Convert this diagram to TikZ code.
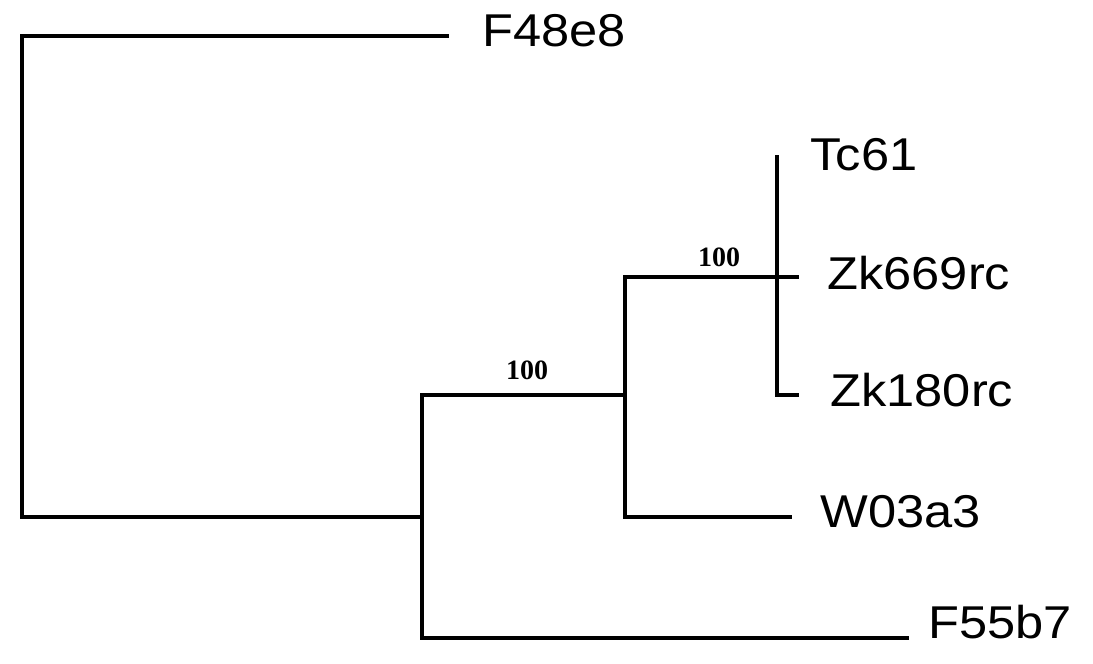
\documentclass[tikz,border=0pt]{standalone}
\usepackage{fontspec}
\setmainfont{Liberation Sans}
\newfontfamily\bootfont{Liberation Serif}
\usepackage{tikz}
\usetikzlibrary{positioning,calc}

\begin{document}
\begin{tikzpicture}[x=0.5pt, y=-0.5pt,
    branch/.style={line width=2.4pt, line cap=rect},
    leaf/.style={anchor=west, inner sep=0pt, xscale=1.1, font=\fontsize{23}{23}\selectfont},
    boot/.style={inner sep=0pt, font=\bootfont\bfseries\fontsize{14}{14}\selectfont}]
  \useasboundingbox (0,0) rectangle (1093,664);
  % inner nodes of the tree
  \coordinate (nR) at (22,517);
  \coordinate (nA) at (422,517);
  \coordinate (nB) at (625,395);
  \coordinate (nC) at (777,277);
  % branch tips
  \coordinate (tF48) at (447,36);
  \coordinate (tF55) at (907,638);
  \coordinate (tW03) at (790,517);
  \coordinate (tTc) at (777,157);
  \coordinate (tZ669) at (797,277);
  \coordinate (tZ180) at (797,395);
  % leaf labels
  \node[leaf] (lF48) at (482,31) {F48e8};
  \node[leaf] (lTc) at (810,155) {Tc61};
  \node[leaf] (lZ669) at (827,273) {Zk669rc};
  \node[leaf] (lZ180) at (830,390) {Zk180rc};
  \node[leaf] (lW03) at (820,512) {W03a3};
  \node[leaf] (lF55) at (928,622) {F55b7};
  % branches
  \draw[branch] (tF48) -| (nR) -- (nA);
  \draw[branch] (tF55) -| (nA) |- (nB);
  \draw[branch] (tW03) -| (nB) |- (nC);
  \draw[branch] (nC) -- (tZ669);
  \draw[branch] (tTc) |- (tZ180);
  % bootstrap values
  \node[boot] (bB) at (527,370) {100};
  \node[boot] (bC) at (719,257) {100};
\end{tikzpicture}
\end{document}
